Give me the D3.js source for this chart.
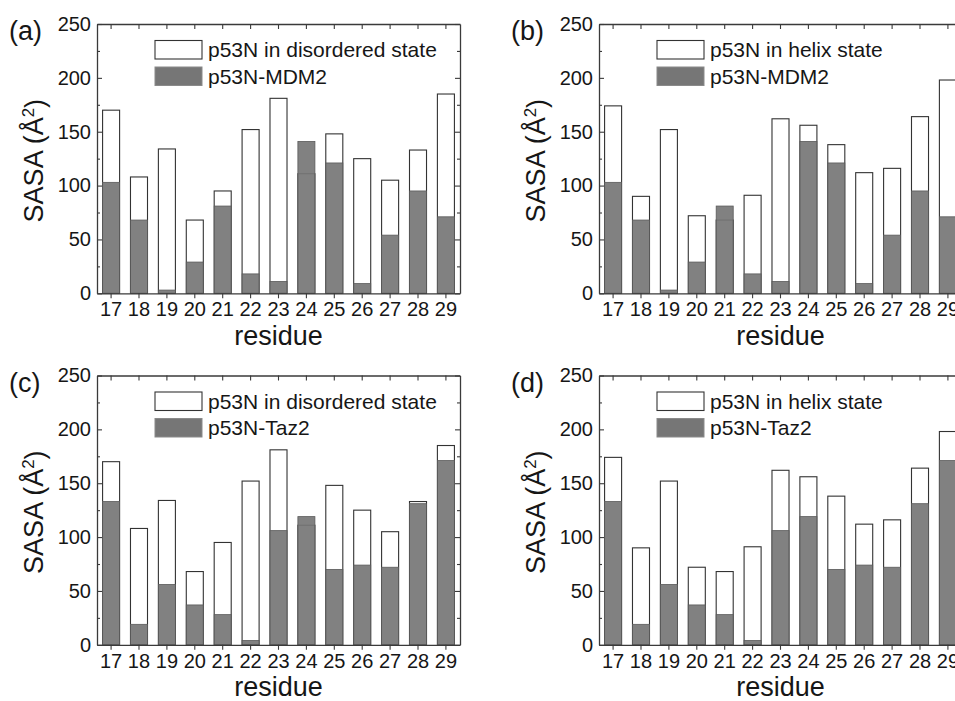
<!DOCTYPE html>
<html>
<head>
<meta charset="utf-8">
<script src="https://cdn.jsdelivr.net/npm/d3@7"></script>
<style>
  html, body { margin: 0; padding: 0; background: #ffffff; }
  svg { display: block; font-family: "Liberation Sans", Arial, sans-serif; }
</style>
</head>
<body>
<svg id="chart" width="955" height="701"></svg>
<script>
// ---- data ----
const residues = [17, 18, 19, 20, 21, 22, 23, 24, 25, 26, 27, 28, 29];
const disorderedSASA = [170, 108, 134, 68, 95, 152, 181, 111, 148, 125, 105, 133, 185];
const helixSASA      = [174, 90, 152, 72, 68, 91, 162, 156, 138, 112, 116, 164, 198];
const mdm2SASA       = [103, 68, 3, 29, 81, 18, 11, 141, 121, 9, 54, 95, 71];
const taz2SASA       = [133, 19, 56, 37, 28, 4, 106, 119, 70, 74, 72, 131, 171];
const yMajorTicks = [0, 50, 100, 150, 200, 250];
const yMinorTicks = [25, 75, 125, 175, 225];
const panelLabels = ["(a)", "(b)", "(c)", "(d)"];
const legendFree  = ["p53N in disordered state", "p53N in helix state", "p53N in disordered state", "p53N in helix state"];
const legendBound = ["p53N-MDM2", "p53N-MDM2", "p53N-Taz2", "p53N-Taz2"];
const xTitle = "residue";

const panels = [
  { label: panelLabels[0], free: disorderedSASA, bound: mdm2SASA, freeName: legendFree[0], boundName: legendBound[0], ox: 0,   oy: 0 },
  { label: panelLabels[1], free: helixSASA,      bound: mdm2SASA, freeName: legendFree[1], boundName: legendBound[1], ox: 502, oy: 0 },
  { label: panelLabels[2], free: disorderedSASA, bound: taz2SASA, freeName: legendFree[2], boundName: legendBound[2], ox: 0,   oy: 351.5 },
  { label: panelLabels[3], free: helixSASA,      bound: taz2SASA, freeName: legendFree[3], boundName: legendBound[3], ox: 502, oy: 351.5 }
];

const svg = d3.select("#chart");
const L = 97, R = 460, T = 24, B = 293.3;
const frameColor = "#3a3a3a";
const textColor = "#161616";
const grayFill = "#767676";

function drawPanel(p) {
  const g = svg.append("g").attr("transform", `translate(${p.ox},${p.oy})`);
  const x = d3.scaleBand().domain(residues).range([L, R]).paddingInner(0.39).paddingOuter(0.2);
  const y = d3.scaleLinear().domain([0, 250]).range([B, T]);

  // bars: free state (white) then bound (gray)
  g.selectAll("rect.free").data(residues).join("rect")
    .attr("class", "free")
    .attr("x", d => x(d)).attr("width", x.bandwidth())
    .attr("y", (d, i) => y(p.free[i])).attr("height", (d, i) => y(0) - y(p.free[i]))
    .attr("fill", "#ffffff").attr("stroke", "#333").attr("stroke-width", 1.1);
  g.selectAll("rect.bound").data(residues).join("rect")
    .attr("class", "bound")
    .attr("x", d => x(d)).attr("width", x.bandwidth())
    .attr("y", (d, i) => y(p.bound[i])).attr("height", (d, i) => y(0) - y(p.bound[i]))
    .attr("fill", grayFill).attr("fill-opacity", 0.92)
    .attr("stroke", "#5a5a5a").attr("stroke-width", 0.8);

  // axes
  const styleAxis = sel => {
    sel.select(".domain").attr("stroke", frameColor).attr("stroke-width", 1.3);
    sel.selectAll(".tick line").attr("stroke", frameColor).attr("stroke-width", 1.1);
    sel.selectAll("text").attr("fill", textColor).style("font-size", "20px")
      .style("font-family", "'Liberation Sans', Arial, sans-serif");
  };
  // bottom: outward ticks with labels
  g.append("g").attr("transform", `translate(0,${B})`)
    .call(d3.axisBottom(x).tickSizeInner(5).tickSizeOuter(0).tickPadding(3))
    .call(styleAxis)
    .call(s => s.selectAll("text").attr("dy", "0.75em"));
  // top: inward ticks, no labels
  g.append("g").attr("transform", `translate(0,${T})`)
    .call(d3.axisTop(x).tickSizeInner(-5).tickSizeOuter(0).tickFormat(""))
    .call(styleAxis);
  // left: inward major + minor
  g.append("g").attr("transform", `translate(${L},0)`)
    .call(d3.axisLeft(y).tickValues(yMajorTicks).tickSizeInner(-5).tickSizeOuter(0).tickPadding(6))
    .call(styleAxis);
  g.append("g").attr("transform", `translate(${L},0)`)
    .call(d3.axisLeft(y).tickValues(yMinorTicks).tickSizeInner(-3).tickSizeOuter(0).tickFormat(""))
    .call(styleAxis).call(s => s.select(".domain").remove());
  // right: inward major + minor
  g.append("g").attr("transform", `translate(${R},0)`)
    .call(d3.axisRight(y).tickValues(yMajorTicks).tickSizeInner(-5).tickSizeOuter(0).tickFormat(""))
    .call(styleAxis);
  g.append("g").attr("transform", `translate(${R},0)`)
    .call(d3.axisRight(y).tickValues(yMinorTicks).tickSizeInner(-3).tickSizeOuter(0).tickFormat(""))
    .call(styleAxis).call(s => s.select(".domain").remove());

  // axis titles
  g.append("text").attr("x", (L + R) / 2).attr("y", 344.5)
    .attr("text-anchor", "middle").attr("fill", textColor)
    .style("font-size", "27px").text(xTitle);
  const yt = g.append("text")
    .attr("transform", `translate(43,${(T + B) / 2 + 2}) rotate(-90)`)
    .attr("text-anchor", "middle").attr("fill", textColor).style("font-size", "27px");
  yt.append("tspan").text("SASA (Å");
  yt.append("tspan").attr("dy", "-0.55em").style("font-size", "17px").text("2");
  yt.append("tspan").attr("dy", "0.37em").text(")");

  // panel label
  g.append("text").attr("x", 9).attr("y", 40).attr("fill", textColor)
    .style("font-size", "27px").text(p.label);

  // legend
  const lx = 155, lw = 47;
  g.append("rect").attr("x", lx).attr("y", 40.5).attr("width", lw).attr("height", 18.5)
    .attr("fill", "#fff").attr("stroke", "#333").attr("stroke-width", 1.1);
  g.append("rect").attr("x", lx).attr("y", 67).attr("width", lw).attr("height", 18.5)
    .attr("fill", grayFill).attr("stroke", "#8a8a8a").attr("stroke-width", 1);
  g.append("text").attr("x", 208).attr("y", 57).attr("fill", textColor)
    .style("font-size", "21px").text(p.freeName);
  g.append("text").attr("x", 208).attr("y", 83.5).attr("fill", textColor)
    .style("font-size", "21px").text(p.boundName);
}

panels.forEach(drawPanel);
</script>
</body>
</html>
